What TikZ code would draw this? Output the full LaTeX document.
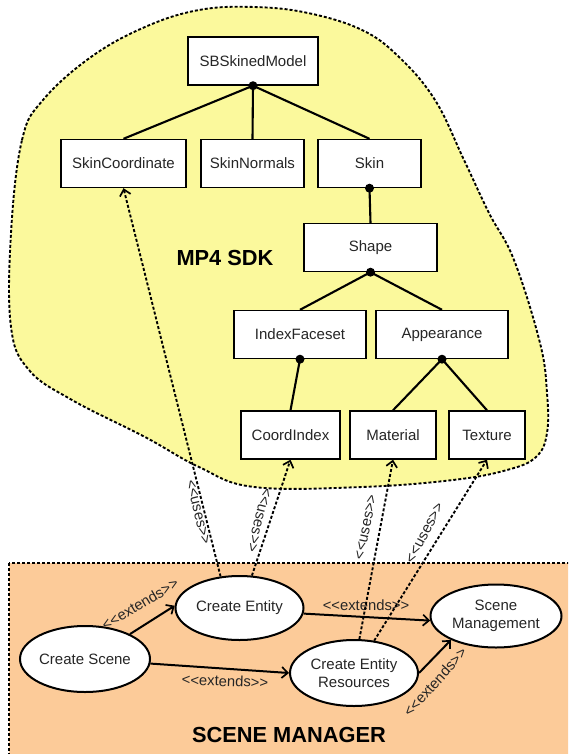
\documentclass[tikz,border=0pt]{standalone}
\usepackage{fontspec}
\setmainfont{Liberation Sans}
% separate family without TeX ligatures, so "<<" stays two characters
\newfontfamily\stereofont{Liberation Sans}
\usetikzlibrary{arrows.meta,shapes.geometric}

\definecolor{sdkyellow}{HTML}{FBF99C}
\definecolor{mgrorange}{HTML}{FCCB99}
\definecolor{ink}{HTML}{262626}

\begin{document}
\begin{tikzpicture}[x=1pt,y=-1pt,
  font=\fontsize{15}{18.5}\selectfont,
  text=ink,
  cls/.style={draw, line width=1.4pt, fill=white, minimum height=48pt, inner sep=0pt},
  usecase/.style={ellipse, draw, line width=2pt, fill=white, inner sep=0pt, align=center},
  agg/.style={line width=2.1pt},
  aggdot/.style={fill=black},
  uses/.style={line width=1.9pt, dash pattern=on 3pt off 2pt, -{Straight Barb[length=6pt,width=11pt,line width=1.7pt]}},
  ext/.style={line width=2pt, -{Straight Barb[length=6pt,width=11pt,line width=1.7pt]}},
  lbl/.style={inner sep=1pt, font=\stereofont\fontsize{14.8}{16}\selectfont},
  area/.style={dash pattern=on 3pt off 2pt, line width=1.9pt},
  title/.style={font=\bfseries\fontsize{21.8}{24}\selectfont, text=black},
]
\clip (0,0) rectangle (568,754);

% MP4 SDK region
\draw[area, fill=sdkyellow] plot[smooth cycle, tension=0.65] coordinates {
  (11,233) (22,140) (43,100) (91,57) (145,27) (199,10) (254,7) (308,13)
  (362,30) (399,57) (435,100) (464,160) (489,213) (514,260) (540,343)
  (547,393) (547,433) (536,457) (507,470) (453,480) (362,487) (254,487)
  (199,467) (145,437) (72,400) (29,370) (11,327)};

% scene manager region
\draw[area, fill=mgrorange] (9,563) rectangle (590,780);

\node[title] (sdk) at (225,258) {MP4 SDK};
\node[title] (mgr) at (289,735) {SCENE MANAGER};

% class hierarchy
\node[cls, minimum width=130pt] (sb)  at (253,61)    {SBSkinedModel};
\node[cls, minimum width=125pt] (sc)  at (123.5,163.5) {SkinCoordinate};
\node[cls, minimum width=103pt] (sn)  at (252.5,163.5) {SkinNormals};
\node[cls, minimum width=103pt] (sk)  at (369.5,163.5) {Skin};
\node[cls, minimum width=133pt] (sh)  at (370.5,247.5) {Shape};
\node[cls, minimum width=132pt] (ifs) at (300,334.5) {IndexFaceset};
\node[cls, minimum width=132pt] (ap)  at (442,334.5) {Appearance};
\node[cls, minimum width=99pt]  (ci)  at (290.5,435) {CoordIndex};
\node[cls, minimum width=86pt]  (mat) at (393,435)   {Material};
\node[cls, minimum width=76pt]  (tex) at (487,435)   {Texture};

\draw[agg] (sb.south) -- (sc.north);
\draw[agg] (sb.south) -- (sn.north);
\draw[agg] (sb.south) -- (sk.north);
\draw[agg] (sk.south) -- (sh.north);
\draw[agg] (sh.south) -- (ifs.north);
\draw[agg] (sh.south) -- (ap.north);
\draw[agg] (ifs.south) -- (ci.north);
\draw[agg] (ap.south) -- (mat.north);
\draw[agg] (ap.south) -- (tex.north);
\foreach \n in {sb,sk,sh,ifs,ap}
  \fill[aggdot] (\n.south) circle (4.5pt);

% use cases
\node[usecase, minimum width=128pt, minimum height=64pt] (ce)  at (239.5,608) {Create Entity};
\node[usecase, minimum width=130pt, minimum height=66pt] (cs)  at (85,659)    {Create Scene};
\node[usecase, minimum width=131pt, minimum height=63pt] (sm)  at (496,616)   {Scene\\Management};
\node[usecase, minimum width=128pt, minimum height=66pt] (cer) at (354,673)   {Create Entity\\Resources};

% extends relations
\draw[ext] (cs.29) -- (ce.178);
\draw[ext] (ce.-5) -- (sm.184);
\draw[ext] (cs.-4) -- (cer.180);
\draw[ext] (cer.0) -- (sm.208);
\node[lbl, rotate=31] (e1) at (140,604) {<<extends>>};
\node[lbl] (e2) at (366,605) {<<extends>>};
\node[lbl, rotate=-2] (e3) at (225,681) {<<extends>>};
\node[lbl, rotate=48] (e4) at (435,682) {<<extends>>};

% uses relations
\draw[uses] (ce.121) -- (sc.south);
\draw[uses] (ce.69) -- (ci.south);
\draw[uses] (cer.81) -- (mat.south);
\draw[uses] (cer.58) -- (tex.south);
\node[lbl, rotate=-76] (u1) at (198,512) {<<uses>>};
\node[lbl, rotate=-104] (u2) at (259,520) {<<uses>>};
\node[lbl, rotate=78] (u3) at (366,527) {<<uses>>};
\node[lbl, rotate=62] (u4) at (425,533) {<<uses>>};
\end{tikzpicture}
\end{document}
